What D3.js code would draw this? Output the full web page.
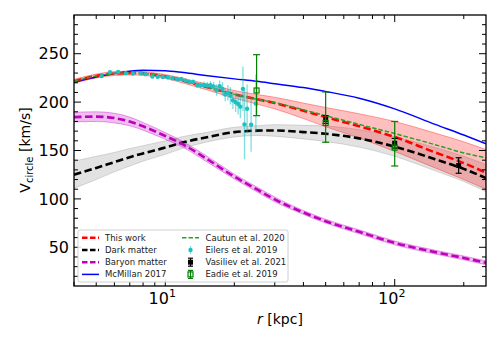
<!DOCTYPE html>
<meta charset="utf-8">
<style>
    body { margin: 0; background: #fff; }
    text { font-family: "DejaVu Sans"; fill: #000; }
</style>
<svg width="500" height="350"></svg>
<script src="https://d3js.org/d3.v7.min.js"></script>
<script>
    // radius grid used by the model curves (kpc)
    const rGrid = [4, 5, 6, 7, 8, 10, 12, 15, 20, 25, 30, 40, 50, 70, 100, 150, 200, 250];

    const thisWork = [221.5, 227, 229.5, 230, 229.5, 226.5, 222, 216, 208, 203, 199, 191, 184.5, 175, 164, 148, 137, 127];
    const thisWorkLo = [219.5, 225, 227.5, 228, 227.5, 224.5, 219.5, 213, 204, 198, 193, 183, 174.5, 163, 149, 132, 120, 110];
    const thisWorkHi = [223.5, 229, 231.5, 232, 231.5, 228.5, 224.5, 219, 212, 208, 205, 199, 194.5, 188, 180, 168, 159, 151];

    const darkMatter = [125, 132, 138, 143, 147, 153, 158.5, 163.5, 169, 170.5, 170.7, 169, 167.3, 162.5, 154, 141, 131, 121.5];
    const darkMatterErr = [14, 12, 10, 9, 8, 7, 6, 5, 5, 5, 6, 7, 8, 9, 10, 12, 13, 14];

    const baryon = [184.5, 185, 183.5, 180, 175, 165, 156, 142, 123, 110, 99.5, 86, 77, 66, 54.5, 45, 39, 34];
    const baryonErr = [5, 5, 5, 4.5, 4, 3.5, 3, 3, 2.5, 2.5, 2.5, 2, 2, 2, 2, 2, 2, 2];

    const mcmillan = [220.5, 226, 229.5, 232, 233, 232.5, 230.5, 227.5, 224, 221.5, 219, 215, 211, 204, 193, 177, 166, 157];
    const cautun = [221.5, 227, 229.5, 230, 229.5, 226.5, 222, 216, 208, 203, 199.5, 192, 186, 177, 167.5, 156, 147.5, 142.5];

    // Eilers et al. 2019
    const eilersR = [5.27, 5.74, 6.23, 6.73, 7.22, 7.82, 8.19, 8.78, 9.27, 9.76, 10.26, 10.75, 11.25, 11.75, 12.25, 12.74, 13.23, 13.74, 14.24, 14.74, 15.22, 15.74, 16.24, 16.74, 17.25, 17.75, 18.24, 18.74, 19.22, 19.71, 20.27, 20.78, 21.24, 21.8, 22.14, 22.73, 23.66, 24.82];
    const eilersV = [226.8, 230.8, 231.2, 229.9, 229.6, 229.9, 228.9, 226.5, 226.2, 225.9, 225.7, 224.7, 224.0, 223.9, 222.2, 220.8, 220.9, 217.5, 217.3, 217.6, 217.1, 217.4, 216.1, 212.5, 216.4, 213.7, 207.9, 209.6, 206.5, 201.9, 199.8, 198.1, 195.3, 213.7, 177.0, 193.1, 176.6, 198.4];
    const eilersErr = [2, 1.5, 1.5, 1.3, 1.2, 1.2, 1.3, 1.5, 1.5, 1.5, 1.6, 1.7, 1.8, 2, 2.2, 2.4, 2.8, 3, 3.2, 3.6, 4, 4.5, 5, 6, 6, 7, 7, 8, 9, 9, 10, 11, 12, 23, 36, 25, 28, 30];

    // Vasiliev et al. 2021
    const vasR = [50, 100, 190];
    const vasV = [182, 157.5, 134.5];
    const vasErr = [4, 5, 8];

    // Eadie et al. 2019
    const eadieR = [25, 50, 100];
    const eadieV = [212, 178.5, 153];
    const eadieLo = [26, 20, 19];
    const eadieHi = [37, 32, 27];

    const yMajor = [50, 100, 150, 200, 250];
    const xMajor = [10, 100];

    var svg = d3.select("svg");
    var margin = {left: 74, right: 14, top: 15, bottom: 64};
    var width = 500 - margin.left - margin.right,
        height = 350 - margin.top - margin.bottom;

    var x = d3.scaleLog().domain([4, 250]).range([margin.left, margin.left + width]);
    var y = d3.scaleLinear().domain([10, 290]).range([margin.top + height, margin.top]);

    var defs = svg.append("defs");
    defs.append("clipPath").attr("id", "clip")
        .append("rect")
        .attr("x", margin.left).attr("y", margin.top)
        .attr("width", width).attr("height", height);

    var plot = svg.append("g").attr("clip-path", "url(#clip)");

    var line = d3.line()
        .x(function (d) { return x(d[0]); })
        .y(function (d) { return y(d[1]); })
        .curve(d3.curveMonotoneX);

    var area = d3.area()
        .x(function (d) { return x(d[0]); })
        .y0(function (d) { return y(d[1]); })
        .y1(function (d) { return y(d[2]); })
        .curve(d3.curveMonotoneX);

    function band(lo, hi, color, opacity) {
        plot.append("path")
            .datum(rGrid.map(function (r, i) { return [r, lo[i], hi[i]]; }))
            .attr("d", area)
            .style("fill", color)
            .style("fill-opacity", opacity)
            .style("stroke", color)
            .style("stroke-opacity", opacity + 0.1)
            .style("stroke-width", 1);
    }

    function curve(vals, color, w, dash) {
        plot.append("path")
            .datum(rGrid.map(function (r, i) { return [r, vals[i]]; }))
            .attr("d", line)
            .style("fill", "none")
            .style("stroke", color)
            .style("stroke-width", w)
            .style("stroke-dasharray", dash);
    }

    // bands
    band(darkMatter.map(function (v, i) { return v - darkMatterErr[i]; }),
         darkMatter.map(function (v, i) { return v + darkMatterErr[i]; }), "#a0a0a0", 0.3);
    band(baryon.map(function (v, i) { return v - baryonErr[i]; }),
         baryon.map(function (v, i) { return v + baryonErr[i]; }), "#bf00bf", 0.25);
    band(thisWorkLo, thisWorkHi, "#ff0000", 0.25);

    // model curves
    curve(mcmillan, "#0000ff", 1.5, null);
    curve(darkMatter, "#000", 2.6, "7.5,3.5");
    curve(baryon, "#bf00bf", 2.6, "7.5,3.5");
    curve(thisWork, "#ff0000", 2.6, "7.5,3.5");
    curve(cautun, "#2ca02c", 1.5, "4.5,2");

    // Eilers
    var eil = plot.append("g");
    eilersR.forEach(function (r, i) {
        eil.append("line")
            .attr("x1", x(r)).attr("x2", x(r))
            .attr("y1", y(eilersV[i] - eilersErr[i])).attr("y2", y(eilersV[i] + eilersErr[i]))
            .style("stroke", "#00bfbf").style("stroke-opacity", 0.5).style("stroke-width", 1.3);
    });
    eilersR.forEach(function (r, i) {
        eil.append("circle")
            .attr("cx", x(r)).attr("cy", y(eilersV[i])).attr("r", 2.2)
            .style("fill", "#20c0c0");
    });

    function errPoint(g, px, py, lo, hi, color, cap) {
        g.append("line").attr("x1", px).attr("x2", px).attr("y1", lo).attr("y2", hi)
            .style("stroke", color).style("stroke-width", 1.2);
        [lo, hi].forEach(function (yy) {
            g.append("line").attr("x1", px - cap).attr("x2", px + cap).attr("y1", yy).attr("y2", yy)
                .style("stroke", color).style("stroke-width", 1.2);
        });
    }

    // Vasiliev
    var vas = svg.append("g");
    vasR.forEach(function (r, i) {
        errPoint(vas, x(r), y(vasV[i]), y(vasV[i] - vasErr[i]), y(vasV[i] + vasErr[i]), "#000", 3);
        vas.append("rect").attr("x", x(r) - 2.5).attr("y", y(vasV[i]) - 2.5)
            .attr("width", 5).attr("height", 5).style("fill", "#000");
    });

    // Eadie
    var ead = svg.append("g");
    eadieR.forEach(function (r, i) {
        errPoint(ead, x(r), y(eadieV[i]), y(eadieV[i] - eadieLo[i]), y(eadieV[i] + eadieHi[i]), "#008000", 3.5);
        ead.append("rect").attr("x", x(r) - 2.5).attr("y", y(eadieV[i]) - 2.5)
            .attr("width", 5).attr("height", 5)
            .style("fill", "none").style("stroke", "#008000").style("stroke-width", 1.2);
    });

    // axes frame and ticks (inward, all four sides)
    var x0 = margin.left, x1 = margin.left + width, y0 = margin.top + height, y1 = margin.top;
    var ax = svg.append("g").style("stroke", "#000");

    var xMinor = [];
    [1, 10, 100].forEach(function (dec) {
        for (var k = 2; k <= 9; k++) {
            var v = k * dec;
            if (v >= 4 && v <= 250 && xMajor.indexOf(v) < 0) xMinor.push(v);
        }
    });
    var yMinor = d3.range(20, 290, 10).filter(function (v) { return yMajor.indexOf(v) < 0; });

    function tickX(v, len) {
        ax.append("line").attr("x1", x(v)).attr("x2", x(v)).attr("y1", y0).attr("y2", y0 - len).style("stroke-width", 1);
        ax.append("line").attr("x1", x(v)).attr("x2", x(v)).attr("y1", y1).attr("y2", y1 + len).style("stroke-width", 1);
    }
    function tickY(v, len) {
        ax.append("line").attr("y1", y(v)).attr("y2", y(v)).attr("x1", x0).attr("x2", x0 + len).style("stroke-width", 1);
        ax.append("line").attr("y1", y(v)).attr("y2", y(v)).attr("x1", x1).attr("x2", x1 - len).style("stroke-width", 1);
    }
    xMinor.forEach(function (v) { tickX(v, 4); });
    xMajor.forEach(function (v) { tickX(v, 7); });
    yMinor.forEach(function (v) { tickY(v, 4); });
    yMajor.forEach(function (v) { tickY(v, 7); });

    ax.append("rect").attr("x", x0).attr("y", y1).attr("width", width).attr("height", height)
        .style("fill", "none").style("stroke-width", 1.3);

    // tick labels
    yMajor.forEach(function (v) {
        svg.append("text").attr("x", x0 - 5).attr("y", y(v)).attr("dy", "0.36em")
            .attr("text-anchor", "end").style("font-size", "16px").text(v);
    });
    xMajor.forEach(function (v) {
        var t = svg.append("text").attr("x", x(v) - 3).attr("y", 304)
            .attr("text-anchor", "middle").style("font-size", "16px");
        t.append("tspan").text("10");
        t.append("tspan").attr("dy", "-7").style("font-size", "11px").text(Math.log10(v));
    });

    // axis titles
    var xt = svg.append("text").attr("x", 280).attr("y", 324).attr("text-anchor", "middle").style("font-size", "14px");
    xt.append("tspan").style("font-style", "italic").text("r");
    xt.append("tspan").text(" [kpc]");

    var yt = svg.append("text").attr("transform", "translate(30,150) rotate(-90)")
        .attr("text-anchor", "middle").style("font-size", "14px");
    yt.append("tspan").text("V");
    yt.append("tspan").attr("dy", 3).style("font-size", "10px").text("circle");
    yt.append("tspan").attr("dy", -3).text(" [km/s]");

    // legend
    var lg = svg.append("g");
    lg.append("rect").attr("x", 78).attr("y", 230).attr("width", 210).attr("height", 52).attr("rx", 2)
        .style("fill", "#fff").style("fill-opacity", 0.85).style("stroke", "#d0d0d0").style("stroke-width", 1);

    const legendLabels = ["This work", "Dark matter", "Baryon matter", "McMillan 2017",
        "Cautun et al. 2020", "Eilers et al. 2019", "Vasiliev et al. 2021", "Eadie et al. 2019"];
    var rowY = [237.7, 250, 262.2, 274.4];

    function legLine(cx, cy, color, w, dash) {
        lg.append("line").attr("x1", cx).attr("x2", cx + 17).attr("y1", cy).attr("y2", cy)
            .style("stroke", color).style("stroke-width", w).style("stroke-dasharray", dash);
    }
    legLine(82, rowY[0], "#ff0000", 2.6, "5.5,2.5");
    legLine(82, rowY[1], "#000", 2.6, "5.5,2.5");
    legLine(82, rowY[2], "#bf00bf", 2.6, "5.5,2.5");
    legLine(82, rowY[3], "#0000ff", 1.5, null);
    legLine(182, rowY[0], "#2ca02c", 1.5, "4.5,2");

    var mx = 190.5;
    errPoint(lg, mx, rowY[1], rowY[1] - 4, rowY[1] + 4, "rgba(0,191,191,0.5)", 0);
    lg.append("circle").attr("cx", mx).attr("cy", rowY[1]).attr("r", 2.2).style("fill", "#20c0c0");
    errPoint(lg, mx, rowY[2], rowY[2] - 4, rowY[2] + 4, "#000", 2.5);
    lg.append("rect").attr("x", mx - 2.5).attr("y", rowY[2] - 2.5).attr("width", 5).attr("height", 5).style("fill", "#000");
    errPoint(lg, mx, rowY[3], rowY[3] - 4, rowY[3] + 4, "#008000", 2.5);
    lg.append("rect").attr("x", mx - 2.5).attr("y", rowY[3] - 2.5).attr("width", 5).attr("height", 5)
        .style("fill", "none").style("stroke", "#008000").style("stroke-width", 1.2);

    legendLabels.forEach(function (s, i) {
        lg.append("text")
            .attr("x", i < 4 ? 105 : 205.5)
            .attr("y", rowY[i % 4]).attr("dy", "0.35em")
            .style("font-size", "8.5px").style("fill", "#222").text(s);
    });
</script>
